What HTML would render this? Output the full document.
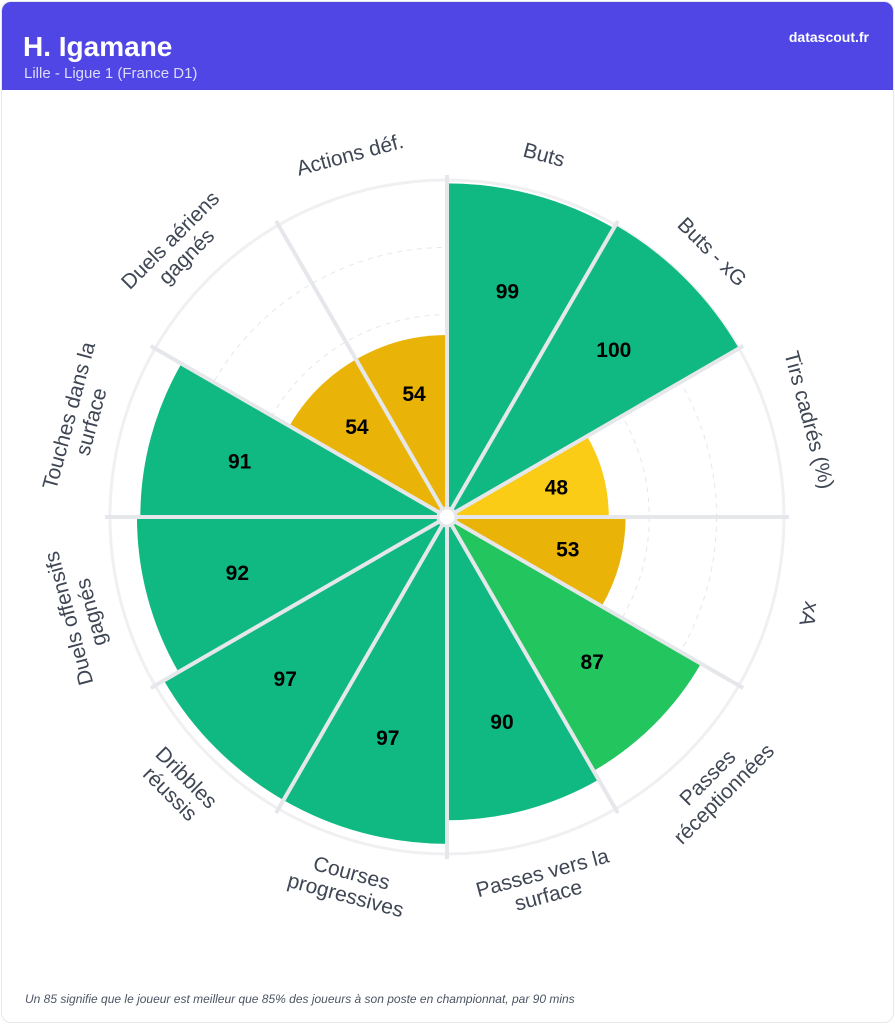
<!DOCTYPE html>
<html><head><meta charset="utf-8">
<style>
html,body{margin:0;padding:0;background:#fff;}
body{width:895px;height:1024px;position:relative;font-family:"Liberation Sans",sans-serif;overflow:hidden;}
.card{position:absolute;left:1px;top:1px;width:891px;height:1020px;border:1px solid #e5e7eb;border-radius:10px;overflow:hidden;background:#fff;}
.hdr{position:absolute;left:0;top:0;width:891px;height:88px;background:#4f46e5;}
.t{position:absolute;left:21px;top:29px;color:#fff;font-weight:bold;font-size:28px;}
.s{position:absolute;left:22px;top:63px;color:#dcdcfb;font-size:15px;}
.d{position:absolute;right:24px;top:27px;color:#fff;font-weight:bold;font-size:14px;}
.f{position:absolute;left:23px;top:990px;color:#4b5563;font-style:italic;font-size:12px;}
svg{position:absolute;left:0;top:0;}
</style></head><body>
<div class="card">
<div class="hdr"><div class="t">H. Igamane</div><div class="s">Lille - Ligue 1 (France D1)</div><div class="d">datascout.fr</div></div>
<div class="f">Un 85 signifie que le joueur est meilleur que 85% des joueurs à son poste en championnat, par 90 mins</div>
</div>
<svg id="c" width="895" height="1024" xmlns="http://www.w3.org/2000/svg"></svg>
<script>
var cx=447,cy=517,R=337;
var data=[["Buts",99],["Buts - xG",100],["Tirs cadrés (%)",48],["xA",53],["Passes|réceptionnées",87],["Passes vers la|surface",90],["Courses|progressives",97],["Dribbles|réussis",97],["Duels offensifs|gagnés",92],["Touches dans la|surface",91],["Duels aériens|gagnés",54],["Actions déf.",54]];
function col(v){if(v>=90)return"#10b981";if(v>=70)return"#22c55e";if(v<50)return"#facc15";return"#eab308";}
function pt(a,r){var t=a*Math.PI/180;return [cx+r*Math.sin(t),cy-r*Math.cos(t)];}
var s='';
s+='<circle cx="'+cx+'" cy="'+cy+'" r="'+R+'" fill="#fff" stroke="#f0f0f2" stroke-width="3"/>';
[0.2,0.4,0.6,0.8].forEach(function(f){s+='<circle cx="'+cx+'" cy="'+cy+'" r="'+(R*f)+'" fill="none" stroke="#e5e7eb" stroke-width="1" stroke-dasharray="5,5"/>';});
data.forEach(function(d,i){var a0=i*30,a1=a0+30,r=R*d[1]/100;var p0=pt(a0,r),p1=pt(a1,r);
s+='<path d="M'+cx+','+cy+' L'+p0[0]+','+p0[1]+' A'+r+','+r+' 0 0 1 '+p1[0]+','+p1[1]+' Z" fill="'+col(d[1])+'"/>';});
for(var i=0;i<12;i++){var p=pt(i*30,342);s+='<line x1="'+cx+'" y1="'+cy+'" x2="'+p[0]+'" y2="'+p[1]+'" stroke="#e5e7eb" stroke-width="4"/>';}
s+='<circle cx="'+cx+'" cy="'+cy+'" r="9" fill="#fff" stroke="#e5e7eb" stroke-width="3"/>';
data.forEach(function(d,i){var a=i*30+15,r=R*d[1]/100*0.7;var p=pt(a,r);
s+='<text x="'+p[0]+'" y="'+(p[1]+7)+'" text-anchor="middle" font-family="Liberation Sans, sans-serif" font-weight="bold" font-size="21" fill="#000">'+d[1]+'</text>';
var lines=d[0].split('|');var lr=lines.length>1?380:375;var q=pt(a,lr);var rot=a;if(a>120&&a<240)rot=a-180;
var t='<text transform="translate('+q[0]+','+q[1]+') rotate('+rot+')" text-anchor="middle" font-family="Liberation Sans, sans-serif" font-size="21" fill="#3f4654">';
var n=lines.length;lines.forEach(function(l,j){var y=(j-(n-1)/2)*23+7;t+='<tspan x="0" y="'+y+'">'+l+'</tspan>';});
t+='</text>';s+=t;});
document.getElementById('c').innerHTML=s;
</script>
</body></html>
